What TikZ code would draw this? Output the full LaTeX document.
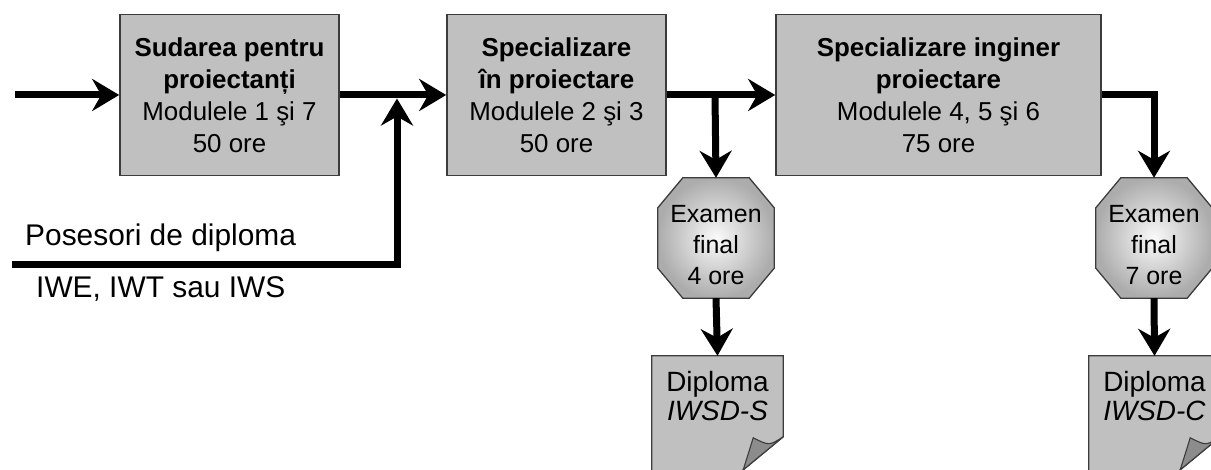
\documentclass[tikz,border=0pt]{standalone}
\usepackage{fontspec}
\setmainfont{Liberation Sans}
\usetikzlibrary{arrows.meta,calc,shapes.geometric}
\definecolor{boxgray}{RGB}{192,192,192}
\definecolor{edgegray}{RGB}{60,60,60}
\definecolor{foldgray}{RGB}{140,140,140}
\begin{document}
\begin{tikzpicture}[x=1bp,y=-1bp,
  stagebox/.style={draw=edgegray,line width=1.6bp,fill=boxgray,minimum height=161bp,inner sep=0pt,align=center,font=\fontsize{26}{32}\selectfont},
  flow/.style={line width=7bp,-{Stealth[length=27bp,width=32bp,inset=9bp]}},
  octholder/.style={minimum width=116bp,minimum height=120bp,inner sep=0pt},
  octtext/.style={align=center,inner sep=0pt,font=\fontsize{25}{31}\selectfont},
  docholder/.style={minimum width=131bp,minimum height=122bp,inner sep=0pt},
  doctext/.style={align=center,inner sep=0pt,font=\fontsize{28}{29}\selectfont},
  sidelabel/.style={anchor=base west,inner sep=0pt,font=\fontsize{30}{36}\selectfont},
  octshape/.style={inner color=white!96!gray,outer color=gray!65,draw=edgegray,line width=1.3bp},
  pageshape/.style={fill=boxgray,draw=edgegray,line width=1.3bp},
  foldshape/.style={fill=foldgray,draw=edgegray,line width=1.1bp}]
\useasboundingbox (0,0) rectangle (1211,470);
\clip (0,0) rectangle (1211,470);

% stage boxes
\node[stagebox,minimum width=219bp] (b1) at (229.5,95) {\textbf{Sudarea pentru}\\\textbf{proiectanți}\\Modulele 1 şi 7\\50 ore};
\node[stagebox,minimum width=219bp] (b2) at (556.5,95) {\textbf{Specializare}\\\textbf{în proiectare}\\Modulele 2 şi 3\\50 ore};
\node[stagebox,minimum width=325bp] (b3) at (938.5,95) {\textbf{Specializare inginer}\\\textbf{proiectare}\\Modulele 4, 5 şi 6\\75 ore};

% octagons
\node[octholder] (e1) at (716,238) {};
\node[octholder] (e2) at (1154,238) {};
\foreach \e in {e1,e2}{
  \shade[octshape]
    ($(\e.north west)+(25,0)$) -- ($(\e.north east)+(-25,0)$) --
    ($(\e.north east)+(0,30)$) -- ($(\e.south east)+(0,-30)$) --
    ($(\e.south east)+(-25,0)$) -- ($(\e.south west)+(25,0)$) --
    ($(\e.south west)+(0,-30)$) -- ($(\e.north west)+(0,30)$) -- cycle;
}
\node[octtext] (e1t) at (716,245) {Examen\\final\\4 ore};
\node[octtext] (e2t) at (1154,245) {Examen\\final\\7 ore};

% documents
\node[docholder] (d1) at (717.5,417) {};
\node[docholder] (d2) at (1154.5,417) {};
\foreach \d in {d1,d2}{
  \path[pageshape] (\d.north west) -- (\d.north east) -- ($(\d.north east)+(0,81)$)
    -- ($(\d.south east)+(-50,0)$) -- (\d.south west) -- cycle;
  \path[foldshape] ($(\d.north east)+(0,81)$) .. controls ($(\d.north east)+(-14,90)$) .. ($(\d.north east)+(-30,82)$)
    .. controls ($(\d.north east)+(-34,95)$) .. ($(\d.north east)+(-40,114)$) -- cycle;
}
\node[doctext] (d1t) at (717.5,396) {Diploma\\\textit{IWSD-S}};
\node[doctext] (d2t) at (1154.5,396) {Diploma\\\textit{IWSD-C}};

% side labels
\node[sidelabel] (l1) at (25,246) {Posesori de diploma};
\node[sidelabel] (l2) at (36,298) {IWE, IWT sau IWS};

% connectors
\coordinate (in0) at (15,95);
\coordinate (p0) at (12,265);
\coordinate (j1) at (397,95);
\coordinate (j2) at (715,95);
\draw[flow] (in0) -- (b1.west);
\draw[flow] (b1.east) -- (b2.west);
\draw[flow,shorten >=3.5bp] (p0) -| (j1);
\draw[flow] (b2.east) -- (b3.west);
\draw[flow] (j2) -- (e1.north);
\draw[flow] (b3.east) -| (e2.north);
\draw[flow] (e1.south) -- (d1.north);
\draw[flow] (e2.south) -- (d2.north);
\end{tikzpicture}
\end{document}
